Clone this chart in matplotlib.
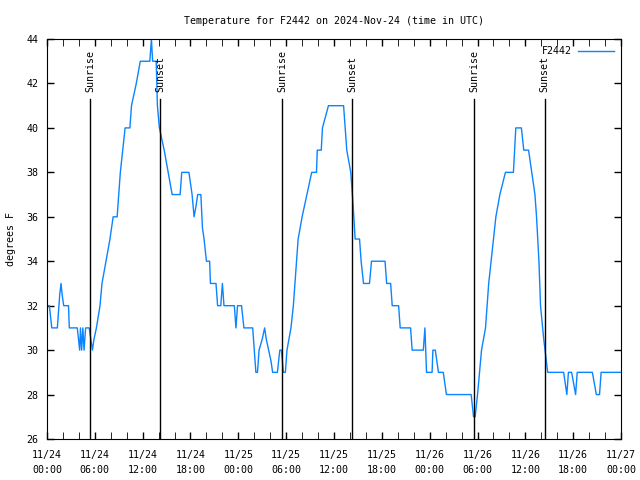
import matplotlib
matplotlib.use("Agg")
import matplotlib.pyplot as plt
from matplotlib.ticker import MultipleLocator

plt.rcParams['font.family'] = ['DejaVu Sans Mono']
plt.rcParams['font.size'] = 7.2

# hours since 11/24 00:00 UTC, temperature in F
hours = [0.0, 0.3, 0.6, 1.3, 1.6, 1.76, 1.9, 2.1, 2.7, 2.8, 3.8, 4.1, 4.2, 4.35, 4.5, 4.65,
         4.85, 5.3, 5.5, 5.7, 5.9, 6.2, 6.65, 6.9, 7.4, 7.9, 8.3, 8.8, 9.0, 9.2, 9.5, 9.8,
         10.4, 10.6, 11.2, 11.7, 12.9, 13.1, 13.25, 13.7, 13.85, 14.1, 14.7, 15.2, 15.7,
         16.7, 16.9, 17.8, 18.2, 18.45, 18.7, 18.9, 19.3, 19.5, 19.7, 20.0, 20.4, 20.5,
         21.2, 21.4, 21.8, 22.0, 22.2, 23.5, 23.7, 23.9,
         24.4, 24.7, 25.8, 26.0, 26.2, 26.4, 26.6, 27.0, 27.3, 27.5, 27.8, 28.1, 28.3,
         28.9, 29.2, 29.4, 29.65, 29.9, 30.1, 30.6, 30.9, 31.1, 31.3, 31.5, 32.0, 32.6,
         33.2, 33.8, 33.9, 34.4, 34.55, 35.3, 37.2, 37.4, 37.6, 38.1, 38.4, 38.65, 39.2,
         39.4, 39.7, 40.45, 40.7, 42.4, 42.6, 43.1, 43.3, 44.1, 44.3, 45.6, 45.8, 47.2,
         47.4, 47.6,
         48.3, 48.4, 48.7, 49.1, 49.7, 50.1, 53.2, 53.5, 53.7, 54.0, 54.25, 54.5, 55.0,
         55.2, 55.4, 55.7, 56.0, 56.3, 56.8, 57.5, 58.5, 58.8, 59.5, 59.8, 60.4, 60.8,
         61.2, 61.4, 61.7, 61.9, 62.3, 62.8, 64.8, 65.2, 65.4, 65.8, 66.3, 66.5, 68.4,
         68.9, 69.3, 69.5, 72.0]
temps = [32, 32, 31, 31, 32.5, 33, 32.5, 32, 32, 31, 31, 30, 31, 30, 31, 30,
         31, 31, 30.5, 30, 30.5, 31, 32, 33, 34, 35, 36, 36, 37, 38, 39, 40,
         40, 41, 42, 43, 43, 44, 43, 43, 41, 40, 39, 38, 37,
         37, 38, 38, 37, 36, 36.5, 37, 37, 35.5, 35, 34, 34, 33,
         33, 32, 32, 33, 32, 32, 31, 32,
         32, 31, 31, 30, 29, 29, 30, 30.5, 31, 30.5, 30, 29.5, 29,
         29, 30, 30, 29, 29, 30, 31, 32, 33, 34, 35, 36, 37,
         38, 38, 39, 39, 40, 41, 41, 40, 39, 38, 36.5, 35, 35,
         34, 33, 33, 34, 34, 33, 33, 32, 32, 31, 31, 30, 30,
         31, 29,
         29, 30, 30, 29, 29, 28, 28, 27, 27, 28, 29, 30, 31,
         32, 33, 34, 35, 36, 37, 38, 38, 40, 40, 39, 39, 38,
         37, 36, 34, 32, 30.5, 29, 29, 28, 29, 29, 28, 29, 29,
         28, 28, 29, 29]

sunrise = [5.42, 29.5, 53.6]
sunset = [14.2, 38.3, 62.4]

tick_hours = [0, 6, 12, 18, 24, 30, 36, 42, 48, 54, 60, 66, 72]
tick_labels = ["11/24\n00:00", "11/24\n06:00", "11/24\n12:00", "11/24\n18:00",
               "11/25\n00:00", "11/25\n06:00", "11/25\n12:00", "11/25\n18:00",
               "11/26\n00:00", "11/26\n06:00", "11/26\n12:00", "11/26\n18:00",
               "11/27\n00:00"]

fig = plt.figure(figsize=(6.4, 4.8), dpi=100)
ax = fig.add_axes([0.0734, 0.0854, 0.897, 0.8333])

ax.plot(hours, temps, color='#0a84ff', lw=1, label='F2442')

for h in sunrise:
    ax.plot([h, h], [26, 41.3], color='black', lw=1)
    ax.text(h, 41.6, "Sunrise", rotation=90, ha='center', va='bottom')
for h in sunset:
    ax.plot([h, h], [26, 41.3], color='black', lw=1)
    ax.text(h, 41.6, "Sunset", rotation=90, ha='center', va='bottom')

ax.set_xlim(0, 72)
ax.set_ylim(26, 44)
ax.set_xticks(tick_hours)
ax.set_xticklabels(tick_labels, linespacing=1.6)
ax.xaxis.set_minor_locator(MultipleLocator(2))
ax.set_yticks(range(26, 45, 2))
ax.tick_params(direction='in', top=True, right=True, length=5, width=1)
ax.tick_params(which='minor', direction='in', top=True, bottom=True, length=5)
ax.tick_params(axis='x', pad=8)
ax.tick_params(axis='y', pad=6)

ax.set_title("Temperature for F2442 on 2024-Nov-24 (time in UTC)", fontsize=7.2, pad=11)
ax.set_ylabel("degrees F", labelpad=8)

leg = ax.legend(loc='upper right', frameon=False, markerfirst=False,
                handlelength=3.6, handletextpad=0.6, borderaxespad=0.3)

fig.savefig("out.png", dpi=100)
